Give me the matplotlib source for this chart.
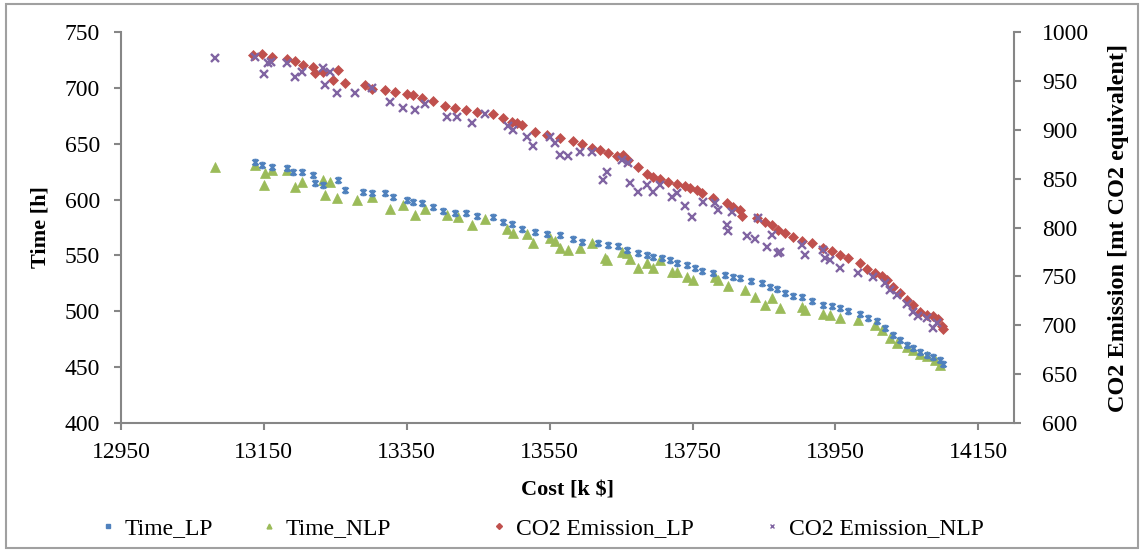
import matplotlib
matplotlib.use("Agg")
import matplotlib.pyplot as plt
from matplotlib.path import Path
from matplotlib.patches import Rectangle
from matplotlib.lines import Line2D

# ---------------- data ----------------
time_lp_x = [13137, 13147, 13161, 13182, 13191, 13203, 13219, 13222, 13233, 13254, 13264, 13289,
             13301, 13320, 13331, 13350, 13359, 13371, 13387, 13401, 13418, 13433, 13448, 13471,
             13485, 13497, 13511, 13530, 13546, 13565, 13583, 13595, 13618, 13632, 13646, 13658,
             13674, 13686, 13695, 13707, 13719, 13728, 13742, 13754, 13763, 13779, 13796, 13807,
             13817, 13832, 13847, 13859, 13868, 13880, 13891, 13903, 13917, 13933, 13945, 13957,
             13968, 13985, 13996, 14008, 14020, 14031, 14041, 14050, 14059, 14069, 14078, 14087,
             14097, 14101]
time_lp_y = [634, 631, 629.5, 628, 625, 624.5, 622, 614.5, 613, 617.5, 608.5, 607,
             606, 605.5, 602.5, 600, 598, 596.5, 593.5, 590, 588, 588, 585, 584,
             580, 578, 573.5, 571, 569, 568, 564.5, 562, 561.5, 559.5, 558, 555,
             552, 550.5, 549, 547.5, 546, 543, 541.5, 538.5, 536.5, 534.5, 532.5, 531,
             529.5, 527, 525, 522, 520, 516, 514, 512.5, 509, 506, 505, 503,
             500, 498, 494, 491, 485, 479, 474.5, 470, 467, 464, 461, 459.5,
             456.5, 453]

time_nlp_x = [13082, 13137, 13150, 13152, 13161, 13182, 13194, 13203, 13233, 13236, 13243, 13252,
              13280, 13301, 13327, 13345, 13362, 13376, 13406, 13422, 13441, 13460, 13490, 13499,
              13518, 13527, 13551, 13558, 13565, 13576, 13593, 13609, 13628, 13630, 13651, 13658,
              13663, 13674, 13686, 13695, 13705, 13721, 13728, 13742, 13751, 13782, 13786, 13800,
              13823, 13838, 13852, 13861, 13873, 13903, 13908, 13933, 13943, 13956, 13982, 14006,
              14015, 14027, 14036, 14050, 14059, 14069, 14078, 14090, 14097]
time_nlp_y = [629.5, 631, 613, 623.5, 626.5, 626.5, 611.5, 616, 617.5, 604, 616, 601,
              600, 602.5, 592, 595, 586, 592, 586, 584.5, 577, 583, 574, 570,
              569, 561.5, 565.5, 562.5, 556.5, 555, 557, 561, 547.5, 546, 553.5, 552,
              547, 538.5, 543, 538.5, 546, 535.5, 535.5, 531, 528, 531, 528, 523,
              519, 513, 506, 512, 503, 504, 501, 498, 497, 494, 492, 488,
              483, 476, 471.5, 468, 465, 462, 460, 456.5, 452]

co2_lp_x = [13135, 13147, 13161, 13182, 13194, 13205, 13219, 13222, 13233, 13247, 13254, 13264,
            13292, 13301, 13320, 13334, 13350, 13359, 13371, 13387, 13404, 13418, 13433, 13448,
            13471, 13485, 13497, 13505, 13511, 13530, 13546, 13565, 13583, 13595, 13609, 13621,
            13632, 13644, 13653, 13660, 13674, 13686, 13695, 13705, 13716, 13728, 13740, 13747,
            13756, 13763, 13779, 13798, 13807, 13817, 13819, 13840, 13852, 13861, 13870, 13880,
            13891, 13903, 13917, 13933, 13945, 13957, 13968, 13985, 13994, 14006, 14015, 14022,
            14031, 14041, 14050, 14059, 14069, 14078, 14087, 14094, 14099, 14101]
co2_lp_y = [976.5, 978, 974, 972, 970, 966, 964.5, 958, 959, 951, 961, 948,
            946, 942, 941, 939, 937, 936, 932, 929, 924, 922, 920, 918,
            916, 912, 908, 907, 905, 898, 895, 892, 889, 885, 881, 879,
            876, 873, 874, 869, 862, 855, 852, 850, 847, 845, 842, 840,
            838, 835, 830, 825, 821, 818, 812, 809.5, 806, 803, 797.5, 794,
            790, 786, 784, 779, 776, 772, 768.5, 763.5, 758, 753, 750, 746,
            739.5, 733, 726, 721, 714, 710.5, 709, 706, 699, 696]

co2_nlp_x = [13082, 13137, 13150, 13156, 13160, 13182, 13194, 13203, 13233, 13236, 13243, 13252,
             13277, 13301, 13327, 13345, 13362, 13376, 13406, 13420, 13441, 13460, 13492, 13499,
             13518, 13527, 13551, 13558, 13565, 13576, 13593, 13609, 13625, 13630, 13651, 13660,
             13663, 13674, 13686, 13695, 13705, 13721, 13728, 13740, 13749, 13765, 13782, 13786,
             13798, 13800, 13805, 13826, 13838, 13842, 13854, 13861, 13870, 13873, 13903, 13908,
             13933, 13936, 13943, 13956, 13982, 14003, 14020, 14027, 14036, 14050, 14059, 14066,
             14078, 14087, 14092]
co2_nlp_y = [973, 974, 957, 968, 969, 968, 954, 959, 963, 946, 959, 938,
             938, 943, 928, 922, 920, 926, 913, 913, 907, 916, 904, 900,
             893, 883, 893, 886, 874, 873, 877, 877, 849, 857, 869, 866,
             846, 836, 843, 836, 843, 831, 835, 822, 811, 826, 825, 818,
             803, 796, 816, 791, 788, 809.5, 780, 792, 774, 775, 782, 772,
             777, 768.5, 767, 759, 753, 749, 743, 736, 731, 722, 714, 709.5,
             707, 697, 702]

series_names = ["Time_LP", "Time_NLP", "CO2 Emission_LP", "CO2 Emission_NLP"]
x_ticks = [12950, 13150, 13350, 13550, 13750, 13950, 14150]
left_ticks = [400, 450, 500, 550, 600, 650, 700, 750]
right_ticks = [600, 650, 700, 750, 800, 850, 900, 950, 1000]

# ---------------- style ----------------
plt.rcParams['font.family'] = ['Liberation Serif', 'DejaVu Serif']
FS_TICK = 17
FS_LAB = 16
FS_LEG = 17
GREY = '#868686'
C_BLUE = '#4F81BD'
C_GREEN = '#9BBB59'
C_RED = '#C0504D'
C_PURPLE = '#8064A2'

star = Path([(-1, -1), (1, 1), (-1, 1), (1, -1), (0, -1.3), (0, 1.3)],
            [Path.MOVETO, Path.LINETO, Path.MOVETO, Path.LINETO, Path.MOVETO, Path.LINETO])

fig = plt.figure(figsize=(11.44, 5.52), dpi=100)
ax = fig.add_axes([121/1144, 1-423/552, (1014-121)/1144, (423-32)/552])
ax2 = ax.twinx()

ax.plot(time_lp_x, time_lp_y, linestyle='none', marker=star, ms=5.5,
        mec=C_BLUE, mfc='none', mew=1.7, zorder=4)
ax.plot(time_nlp_x, time_nlp_y, linestyle='none', marker='^', ms=6.8,
        mec=C_GREEN, mfc=C_GREEN, mew=0.5, zorder=3)
ax2.plot(co2_lp_x, co2_lp_y, linestyle='none', marker='D', ms=4.8,
         mec=C_RED, mfc=C_RED, mew=0.5, zorder=3)
ax2.plot(co2_nlp_x, co2_nlp_y, linestyle='none', marker='x', ms=6.2,
         mec=C_PURPLE, mew=1.7, zorder=4)

ax.set_xlim(12950, 14200)
ax.set_ylim(400, 750)
ax2.set_ylim(600, 1000)
ax.set_xticks(x_ticks)
ax.set_yticks(left_ticks)
ax2.set_yticks(right_ticks)

for a in (ax, ax2):
    for s in a.spines.values():
        s.set_color(GREY)
        s.set_linewidth(1.5)
    a.spines['top'].set_visible(False)
    a.tick_params(axis='both', colors=GREY, labelcolor='black', labelsize=FS_TICK,
                  length=5, width=1.5, direction='out')
ax.spines['right'].set_visible(False)
ax2.spines['left'].set_visible(False)
ax2.spines['bottom'].set_visible(False)
ax.tick_params(axis='x', pad=9)
ax.tick_params(axis='y', pad=10)
ax2.tick_params(axis='y', pad=15)

ax.set_xlabel("Cost [k $]", fontsize=FS_LAB, fontweight='bold', labelpad=12)
ax.set_ylabel("Time [h]", fontsize=FS_LAB, fontweight='bold', labelpad=10)
ax2.set_ylabel("CO2 Emission [mt CO2 equivalent]", fontsize=17.5, fontweight='bold', labelpad=14)

# legend entries placed individually
handles = [
    Line2D([], [], linestyle='none', marker='s', ms=2.5, mfc=C_BLUE, mec=C_BLUE),
    Line2D([], [], linestyle='none', marker='^', ms=3.5, mfc=C_GREEN, mec=C_GREEN),
    Line2D([], [], linestyle='none', marker='D', ms=3, mfc=C_RED, mec=C_RED),
    Line2D([], [], linestyle='none', marker='x', ms=3, mec=C_PURPLE, mew=1),
]
xpos = [101, 262, 492, 765]
for hnd, name, xp in zip(handles, series_names, xpos):
    fig.legend([hnd], [name], loc='center left', bbox_to_anchor=(xp/1144, 1-528/552),
               frameon=False, fontsize=FS_LEG, handlelength=0.6, handletextpad=0.4,
               borderpad=0, borderaxespad=0)

fig.patches.append(Rectangle((6/1144, 4/552), 1132/1144, 544/552, transform=fig.transFigure,
                             fill=False, edgecolor='#A0A0A0', linewidth=1.5))

fig.savefig("out.png", dpi=100)
